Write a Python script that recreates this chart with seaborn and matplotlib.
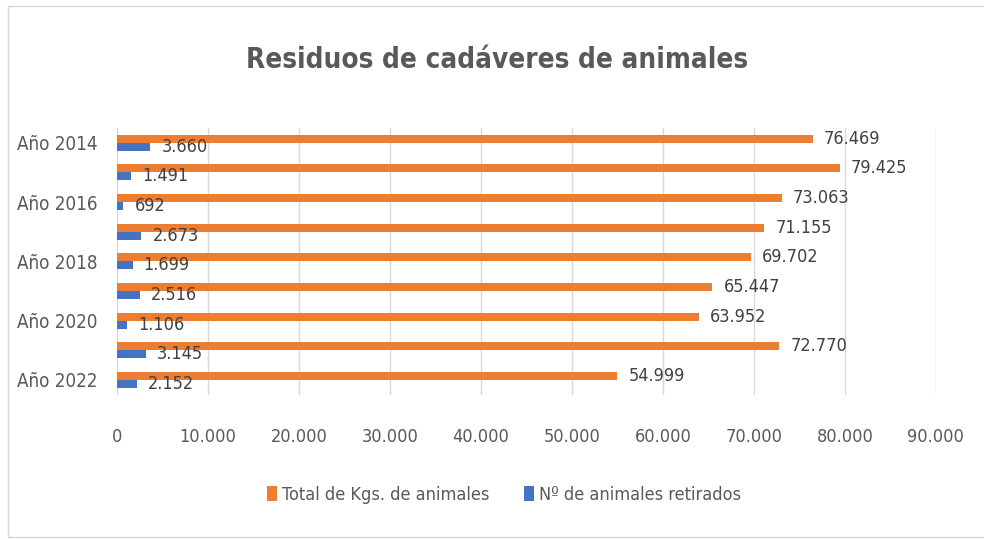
import pandas as pd
import seaborn as sns
import matplotlib.pyplot as plt
from matplotlib.lines import Line2D
from matplotlib.patches import Patch

years = ["Año 2014", "Año 2015", "Año 2016", "Año 2017", "Año 2018",
         "Año 2019", "Año 2020", "Año 2021", "Año 2022"]
kgs = [76469, 79425, 73063, 71155, 69702, 65447, 63952, 72770, 54999]
animales = [3660, 1491, 692, 2673, 1699, 2516, 1106, 3145, 2152]
series = ["Total de Kgs. de animales", "Nº de animales retirados"]
colors = ["#ED7D31", "#4472C4"]
x_ticks = [0, 10000, 20000, 30000, 40000, 50000, 60000, 70000, 80000, 90000]

df = pd.DataFrame({
    "year": years * 2,
    "value": kgs + animales,
    "serie": [series[0]] * len(years) + [series[1]] * len(years),
})

sns.set_theme(style="white")
plt.rcParams['font.family'] = ['DejaVu Sans']
plt.rcParams['font.stretch'] = 'condensed'
text_col = "#595959"

fig = plt.figure(figsize=(9.84, 5.4), dpi=100)
ax = fig.add_axes([0.119, 0.269, 0.832, 0.494])

sns.barplot(data=df, x="value", y="year", hue="serie", hue_order=series,
            palette=colors, orient="h", width=0.54, ax=ax, legend=False,
            saturation=1, linewidth=0)

# etiquetas de datos
def fmt(v):
    return f"{v:,}".replace(",", ".")

for cont, vals in zip(ax.containers, [kgs, animales]):
    ax.bar_label(cont, labels=[fmt(v) for v in vals], padding=8,
                 fontsize=13, color="#404040")

ax.set_xlim(0, 90000)
ax.set_ylim(8.5, -0.5)
ax.set_xticks(x_ticks)
ax.set_xticklabels([fmt(v) for v in x_ticks], fontsize=13, color=text_col)
ax.set_yticks(range(len(years)))
ax.set_yticklabels([y if i % 2 == 0 else "" for i, y in enumerate(years)],
                   fontsize=13.5, color=text_col)
ax.tick_params(axis="x", length=0, pad=24)
ax.tick_params(axis="y", length=0, pad=14)
ax.grid(axis="x", color="#D9D9D9", linewidth=1)
ax.set_axisbelow(True)
for s in ax.spines.values():
    s.set_visible(False)
ax.set_xlabel("")
ax.set_ylabel("")

fig.text(0.505, 0.888, "Residuos de cadáveres de animales", ha="center",
         va="center", fontsize=20, fontweight="bold", color=text_col)

handles = [Patch(facecolor=c, edgecolor="none") for c in colors]
fig.legend(handles, series, loc="center", bbox_to_anchor=(0.512, 0.083),
           ncol=2, frameon=False, fontsize=13, handlelength=0.6,
           handleheight=0.9, handletextpad=0.25, columnspacing=1.9,
           labelcolor=text_col)

# borde del gráfico
bc = "#D9D9D9"
fig.add_artist(Line2D([8 / 984, 8 / 984], [1 - 6 / 540, 1 - 537 / 540],
                      transform=fig.transFigure, color=bc, lw=1))
fig.add_artist(Line2D([8 / 984, 1], [1 - 6 / 540, 1 - 6 / 540],
                      transform=fig.transFigure, color=bc, lw=1))
fig.add_artist(Line2D([8 / 984, 1], [1 - 537 / 540, 1 - 537 / 540],
                      transform=fig.transFigure, color=bc, lw=1))

fig.savefig("out.png", dpi=100, facecolor="white")
